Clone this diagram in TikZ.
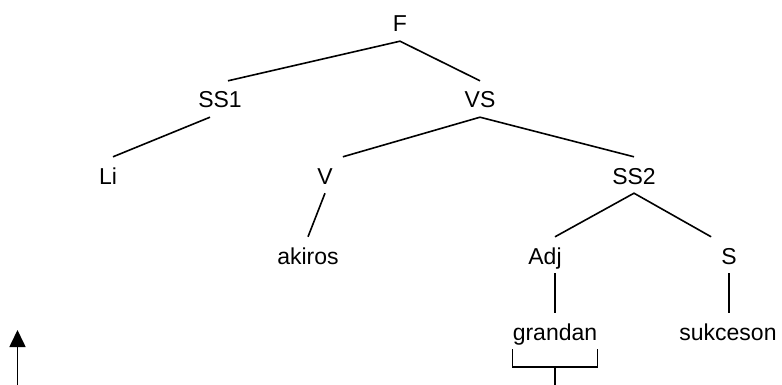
\documentclass[tikz,border=0pt]{standalone}
\usepackage{fontspec}
\setmainfont{Liberation Sans}
\usetikzlibrary{arrows.meta}
\tikzset{
  word/.style={anchor=base, inner xsep=10pt, inner ysep=4pt, text height=23pt, text depth=5pt,
    font=\fontsize{23pt}{27pt}\selectfont},
  branch/.style={black, line width=1.6pt}
}
\begin{document}
\begin{tikzpicture}[x=1pt, y=-1pt]
  \useasboundingbox (0,0) rectangle (782,385);
  \node [word] (F) at (400,32) {F};
  \node [word] (SS1) at (220,108) {SS1};
  \node [word] (VS) at (480,108) {VS};
  \node [word] (Li) at (108,184) {Li};
  \node [word] (V) at (325,184) {V};
  \node [word] (SS2) at (634,184) {SS2};
  \node [word] (akiros) at (308,264) {akiros};
  \node [word] (Adj) at (545,264) {Adj};
  \node [word] (S) at (729,264) {S};
  \node [word] (grandan) at (555,340) {grandan};
  \node [word] (sukceson) at (728,340) {sukceson};
  \coordinate (foot) at (17.5,385);
  \coordinate (tip) at (17.5,330);
  \coordinate (bottom) at (0,385);
  \draw [branch] ([xshift=8pt]SS1.north) -- (F.south) -- (VS.north); 
  \draw [branch] ([xshift=-10pt]SS1.south) -- ([xshift=5pt]Li.north); 
  \draw [branch] (V.north east) -- (VS.south) -- (SS2.north); 
  \draw [branch] (V.south) -- (akiros.north); 
  \draw [branch] ([xshift=10pt]Adj.north) -- (SS2.south) -- (S.north west); 
  \draw [branch] ([xshift=10pt]Adj.south) -- (grandan.north); 
  \draw [branch] (S.south) -- (S.south |- sukceson.north); 
  % bracket under grandan
  \draw [branch] ([xshift=10pt]grandan.south west) -- ++(0,18) -| ([xshift=-10pt]grandan.south east); 
  \draw [branch] (grandan.south) ++(0,18) -- (grandan.south |- bottom); 
  \draw [branch, -{Triangle[length=17pt, width=16pt]}] (foot) -- (tip); 
\end{tikzpicture}
\end{document}
